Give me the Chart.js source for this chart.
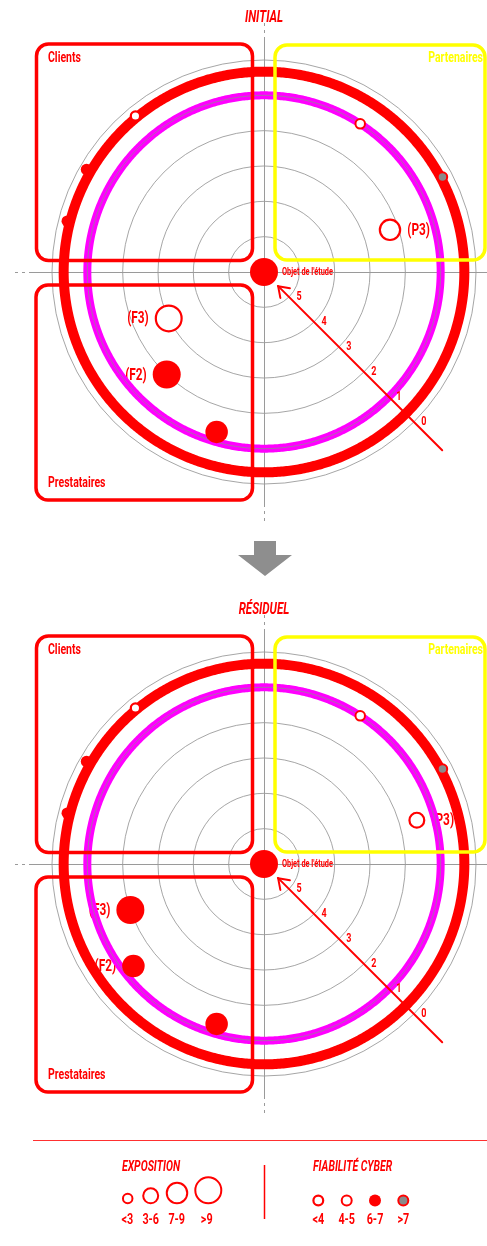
<!DOCTYPE html>
<html><head><meta charset="utf-8">
<script src="https://cdn.jsdelivr.net/npm/chart.js@4"></script>
<style>
html,body{margin:0;padding:0;background:#fff;}
body{width:487px;height:1246px;position:relative;overflow:hidden;}
canvas{position:absolute;left:0;}
</style></head>
<body>
<canvas id="deco" width="487" height="1246" style="top:0"></canvas>
<canvas id="cInit" width="487" height="540" style="top:0"></canvas>
<canvas id="cRes" width="487" height="540" style="top:592px"></canvas>
<script>
// ---------- DATA ----------
const tickValues = [0, 1, 2, 3, 4, 5];
const outerRingScore = 0.33;   // red ring
const innerRingScore = 1;      // magenta ring

// INITIAL
const initAngles      = [320.6, 300, 284.4, 32.8, 61.8, 71.6, 244.2, 223.5, 196.7];
const initScores      = [0.28, 0.2, 0.25, 1.0, 0.28, 2.24, 3.0, 2.0, 1.28];
const initExposure    = ['<3','<3','<3','<3','<3','7-9','>9','>9','7-9'];
const initReliability = ['<4','6-7','6-7','4-5','>7','<4','<4','6-7','6-7'];
const initTags        = ['','','','','','(P3)','(F3)','(F2)',''];

// RÉSIDUEL
const resAngles       = [320.6, 300, 284.4, 32.8, 61.8, 74.2, 251.1, 232, 196.7];
const resScores       = [0.28, 0.2, 0.25, 1.0, 0.28, 1.5, 2.0, 1.31, 1.28];
const resExposure     = ['<3','<3','<3','<3','<3','3-6','>9','7-9','7-9'];
const resReliability  = ['<4','6-7','6-7','4-5','>7','<4','6-7','6-7','6-7'];
const resTags         = ['','','','','','(P3)','(F3)','(F2)',''];

const exposureLabels    = ['<3','3-6','7-9','>9'];
const reliabilityLabels = ['<4','4-5','6-7','>7'];
const zoneNames = ['Clients','Partenaires','Prestataires'];
const centerLabel = "Objet de l'étude";

// ---------- STYLE ----------
const RED = '#ff0000', MAG = '#ff00ff', YEL = '#ffff00', GRID = '#8f8f8f', DOT_GREY = '#8a8a8a';
const SIZE = {'<3':5.75,'3-6':8.5,'7-9':11.25,'>9':14};
const REL = {
  '<4':  {fill:'#ffffff', bw:2.2},
  '4-5': {fill:'#ffffff', bw:2},
  '6-7': {fill:RED, bw:0},
  '>7':  {fill:DOT_GREY, bw:2}
};
const FONT = 'Roboto, "Liberation Sans", Arial, sans-serif';
const N = 720;
const angleLabels = Array.from({length:N}, (_, i) => i * 360 / N);

function sText(ctx, text, x, y, o) {
  o = Object.assign({size:14, italic:false, color:RED, align:'left', sx:0.7}, o || {});
  ctx.save();
  ctx.translate(x, y);
  ctx.scale(o.sx, 1);
  ctx.font = (o.italic ? 'italic ' : '') + 'bold ' + o.size + 'px ' + FONT;
  ctx.fillStyle = o.color;
  ctx.textAlign = o.align;
  ctx.textBaseline = 'middle';
  ctx.fillText(text, 0, 0);
  ctx.restore();
}

function buildChart(id, title, angles, scores, exposure, reliability, tags) {
  const pts = Array(N).fill(null);
  const info = Array(N).fill(null);
  angles.forEach((a, i) => {
    const idx = Math.round(a * N / 360) % N;
    pts[idx] = scores[i];
    info[idx] = {exp: exposure[i], rel: reliability[i], tag: tags[i]};
  });
  const center = Array(N).fill(null); center[0] = 6;
  const ring = v => Array(N).fill(v);

  const deco = {
    id: 'deco_' + id,
    beforeDatasetsDraw(chart) {
      const ctx = chart.ctx, s = chart.scales.r, cx = s.xCenter, cy = s.yCenter;
      ctx.save();
      ctx.strokeStyle = '#9a9a9a'; ctx.lineWidth = 1;
      ctx.beginPath();
      ctx.moveTo(cx - 232, cy + 0.5); ctx.lineTo(cx + 240, cy + 0.5);
      ctx.moveTo(cx + 0.5, cy - 232); ctx.lineTo(cx + 0.5, cy + 232);
      ctx.stroke();
      ctx.setLineDash([3, 4]);
      ctx.beginPath();
      ctx.moveTo(cx - 232, cy + 0.5); ctx.lineTo(cx - 249, cy + 0.5);
      ctx.moveTo(cx + 0.5, cy - 232); ctx.lineTo(cx + 0.5, cy - 249);
      ctx.moveTo(cx + 0.5, cy + 232); ctx.lineTo(cx + 0.5, cy + 249);
      ctx.stroke();
      ctx.restore();
      const meta = chart.getDatasetMeta(0);
      info.forEach((inf, idx) => {
        if (!inf || !inf.tag) return;
        const p = meta.data[idx];
        const r = SIZE[inf.exp];
        if (p.x > cx) sText(ctx, inf.tag, p.x + r + 6, p.y + 1, {size:16, align:'left', sx:0.74});
        else sText(ctx, inf.tag, p.x - r - 6, p.y + 1, {size:16, align:'right', sx:0.74});
      });
    },
    afterDatasetsDraw(chart) {
      const ctx = chart.ctx, s = chart.scales.r, cx = s.xCenter, cy = s.yCenter;
      const diagIdx = N * 135 / 360;
      const tip = s.getPointPosition(diagIdx, 20);
      const end = s.getPointPosition(diagIdx, 252);
      ctx.save();
      ctx.strokeStyle = RED; ctx.lineWidth = 2; ctx.lineCap = 'round';
      ctx.beginPath(); ctx.moveTo(end.x, end.y); ctx.lineTo(tip.x, tip.y); ctx.stroke();
      const ang = Math.atan2(end.y - tip.y, end.x - tip.x);
      ctx.beginPath();
      ctx.moveTo(tip.x + 12 * Math.cos(ang - 0.6), tip.y + 12 * Math.sin(ang - 0.6));
      ctx.lineTo(tip.x, tip.y);
      ctx.lineTo(tip.x + 12 * Math.cos(ang + 0.6), tip.y + 12 * Math.sin(ang + 0.6));
      ctx.stroke();
      ctx.restore();
      tickValues.forEach(v => {
        const p = s.getPointPositionForValue(diagIdx, v);
        sText(ctx, String(v), p.x + 10, p.y + 0.5, {size:12, align:'center', sx:0.75});
      });
      sText(ctx, centerLabel, cx + 18, cy + 0.5, {size:10.5});
      ctx.save();
      ctx.lineWidth = 3.5;
      ctx.strokeStyle = RED;
      ctx.beginPath(); ctx.roundRect(cx - 227.5, cy - 228, 216, 216.5, 12); ctx.stroke();
      ctx.beginPath(); ctx.roundRect(cx - 228, cy + 13, 216.5, 215, 12); ctx.stroke();
      ctx.strokeStyle = YEL;
      ctx.beginPath(); ctx.roundRect(cx + 11, cy - 227, 210, 215, 12); ctx.stroke();
      ctx.restore();
      sText(ctx, zoneNames[0], cx - 216, cy - 214, {size:15, sx:0.7});
      sText(ctx, zoneNames[1], cx + 219, cy - 214, {size:15, color:YEL, align:'right', sx:0.7});
      sText(ctx, zoneNames[2], cx - 216, cy + 211, {size:15, sx:0.7});
      sText(ctx, title, cx, 18, {size:17, italic:true, align:'center', sx:0.68});
    }
  };

  return new Chart(document.getElementById(id), {
    type: 'radar',
    data: {
      labels: angleLabels,
      datasets: [
        { data: pts, showLine: false, order: 0,
          pointRadius: c => { const f = info[c.dataIndex]; return f ? SIZE[f.exp] - REL[f.rel].bw / 2 : 0; },
          pointBorderWidth: c => { const f = info[c.dataIndex]; return f ? REL[f.rel].bw : 0; },
          pointBackgroundColor: c => { const f = info[c.dataIndex]; return f ? REL[f.rel].fill : RED; },
          pointBorderColor: RED },
        { data: center, showLine: false, order: 1, pointRadius: 14, pointBorderWidth: 0, pointBackgroundColor: RED },
        { data: ring(outerRingScore), order: 2, borderColor: RED, borderWidth: 10, pointRadius: 0, fill: false },
        { data: ring(innerRingScore), order: 3, borderColor: GRID, borderWidth: 0.8, pointRadius: 0, fill: false },
        { data: ring(innerRingScore), order: 4, borderColor: MAG, borderWidth: 8, pointRadius: 0, fill: false }
      ]
    },
    options: {
      responsive: false, animation: false, events: [], devicePixelRatio: 1,
      layout: { padding: { left: 52, right: 11, top: 60, bottom: 56 } },
      elements: { line: { tension: 0, borderJoinStyle: 'round' } },
      plugins: { legend: { display: false }, tooltip: { enabled: false }, title: { display: false } },
      scales: { r: {
        min: 0, max: 6, reverse: true, startAngle: 0,
        ticks: { display: false, stepSize: 1 },
        grid: { circular: true, color: GRID, lineWidth: 0.8 },
        angleLines: { display: false },
        pointLabels: { display: false }
      } }
    },
    plugins: [deco]
  });
}

buildChart('cInit', 'INITIAL', initAngles, initScores, initExposure, initReliability, initTags);
buildChart('cRes', 'RÉSIDUEL', resAngles, resScores, resExposure, resReliability, resTags);

// ---------- arrow between charts & legend ----------
(function () {
  const ctx = document.getElementById('deco').getContext('2d');
  ctx.fillStyle = '#8e8e8e';
  ctx.beginPath();
  ctx.moveTo(254, 541); ctx.lineTo(276, 541); ctx.lineTo(276, 555); ctx.lineTo(292, 555);
  ctx.lineTo(265, 576); ctx.lineTo(238, 555); ctx.lineTo(254, 555); ctx.closePath(); ctx.fill();
  ctx.strokeStyle = '#ff3030'; ctx.lineWidth = 1;
  ctx.beginPath(); ctx.moveTo(33, 1140.5); ctx.lineTo(487, 1140.5); ctx.stroke();
  ctx.strokeStyle = RED; ctx.lineWidth = 1.5;
  ctx.beginPath(); ctx.moveTo(264.5, 1165); ctx.lineTo(264.5, 1219); ctx.stroke();
  sText(ctx, 'EXPOSITION', 122, 1167, {size:14.5, italic:true, sx:0.72});
  sText(ctx, 'FIABILITÉ CYBER', 313, 1167, {size:14.5, italic:true, sx:0.72});
  const expX = [127.7, 150.7, 177, 208.3];
  const expLabX = [127.3, 150.7, 176.7, 206.7];
  exposureLabels.forEach((l, i) => {
    const r = SIZE[l];
    ctx.beginPath(); ctx.arc(expX[i], 1204.3 - r, r - 1, 0, Math.PI * 2);
    ctx.fillStyle = '#fff'; ctx.fill();
    ctx.strokeStyle = RED; ctx.lineWidth = 2; ctx.stroke();
    sText(ctx, l, expLabX[i], 1220, {size:15, align:'center', sx:0.72});
  });
  const relX = [318.3, 346.7, 375, 403.3];
  reliabilityLabels.forEach((l, i) => {
    const st = REL[l];
    ctx.beginPath();
    if (st.bw) {
      ctx.arc(relX[i], 1200.5, 6 - st.bw / 2, 0, Math.PI * 2);
      ctx.fillStyle = st.fill; ctx.fill();
      ctx.strokeStyle = RED; ctx.lineWidth = st.bw; ctx.stroke();
    } else {
      ctx.arc(relX[i], 1200.5, 6, 0, Math.PI * 2);
      ctx.fillStyle = st.fill; ctx.fill();
    }
    sText(ctx, l, relX[i], 1220, {size:15, align:'center', sx:0.72});
  });
})();
</script>
</body></html>
